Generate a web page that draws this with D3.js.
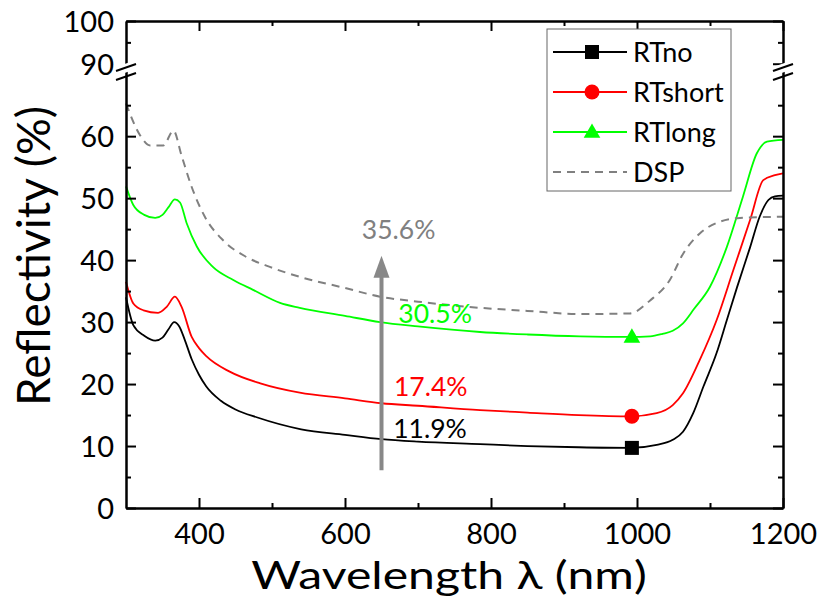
<!DOCTYPE html>
<html>
<head>
<meta charset="utf-8">
<script src="https://cdn.jsdelivr.net/npm/d3@7"></script>
<style>
  body { margin: 0; background: #fff; }
  text { font-family: Lato, 'Open Sans', sans-serif; }
</style>
</head>
<body>
<script>
// values
const wlNo = [300, 310, 325, 340, 350, 358, 366, 373, 380, 390, 400, 410, 430, 450, 480, 540, 600, 650, 700, 785, 850, 920, 990, 1027, 1049, 1063, 1077, 1091, 1109, 1123, 1137, 1155, 1168, 1180, 1189, 1200];
const rNo  = [34.0, 29.5, 27.8, 27.0, 27.5, 28.8, 30.0, 29.3, 27.3, 24.0, 21.5, 19.6, 17.3, 15.9, 14.6, 12.7, 11.8, 11.1, 10.7, 10.3, 10.0, 9.8, 9.7, 10.2, 11.0, 12.3, 15.3, 19.6, 25.0, 30.3, 35.6, 42.1, 47.0, 49.7, 50.3, 50.4];

const wlShort = [300, 310, 324, 344, 356, 367, 376, 390, 400, 410, 442, 484, 538, 600, 650, 700, 785, 850, 920, 992, 1027, 1049, 1063, 1086, 1109, 1132, 1155, 1173, 1189, 1200];
const rShort  = [36.5, 33.0, 31.9, 31.5, 32.5, 34.1, 32.5, 27.6, 25.8, 24.5, 22.0, 20.1, 18.6, 17.7, 16.9, 16.5, 15.8, 15.4, 15.0, 14.8, 15.3, 16.6, 18.5, 23.9, 30.3, 38.4, 46.5, 52.9, 53.7, 54.0];

const wlLong = [300, 310, 325, 340, 350, 358, 367, 374, 383, 397, 419, 447, 474, 511, 538, 600, 648, 700, 785, 850, 922, 990, 1018, 1035, 1049, 1063, 1078, 1100, 1123, 1145, 1164, 1178, 1200];
const rLong  = [51.9, 48.9, 47.3, 46.8, 47.3, 48.5, 49.8, 49.3, 46.0, 42.2, 38.9, 36.8, 35.2, 33.1, 32.3, 31.0, 30.0, 29.3, 28.4, 28.0, 27.7, 27.6, 27.7, 28.1, 28.6, 29.8, 32.1, 35.7, 42.1, 50.2, 57.2, 59.1, 59.4];

const wlDsp = [300, 319, 333, 351, 365, 376, 390, 408, 433, 465, 497, 538, 600, 648, 700, 785, 850, 922, 990, 1018, 1045, 1063, 1086, 1109, 1141, 1200];
const rDsp  = [65.3, 60.2, 58.5, 58.5, 60.9, 56.9, 51.8, 47.0, 43.2, 40.5, 38.9, 37.3, 35.5, 34.1, 33.3, 32.3, 31.8, 31.3, 31.4, 33.5, 36.8, 41.0, 44.3, 46.0, 46.8, 47.0];

const seriesNames = ['RTno', 'RTshort', 'RTlong', 'DSP'];
const seriesColors = ['#000000', '#ff0000', '#00ff00', '#808080'];

const markerWl = 993;
const markerR = [9.7, 14.8, 27.6];

const noteTexts = ['35.6%', '30.5%', '17.4%', '11.9%'];
const noteWl = [623, 673, 667, 666];
const noteR = [43.4, 29.8, 18.1, 11.3];
const noteColors = ['#808080', '#00ff00', '#ff0000', '#000000'];

const arrowWl = 650;
const arrowFrom = 6.1;
const arrowTo = 40.7;

const xMajor = [400, 600, 800, 1000, 1200];
const xMinor = [500, 700, 900, 1100];
const yLowMajor = [0, 10, 20, 30, 40, 50, 60];
const yLowMinor = [5, 15, 25, 35, 45, 55, 65];
const yHighMajor = [90, 100];
const yHighMinor = [95];

const width = 820, height = 608;
const plot = {left: 126, right: 783, top: 21, bottom: 508, brk: 68};

const svg = d3.select('body').append('svg')
    .attr('width', width)
    .attr('height', height);

const x = d3.scaleLinear().domain([300, 1200]).range([plot.left, plot.right]);
const yLow = d3.scaleLinear().domain([0, 71]).range([plot.bottom, plot.brk]);
const yHigh = d3.scaleLinear().domain([89, 100]).range([plot.brk, plot.top]);

// curves
const line = d3.line()
    .x(d => x(d[0]))
    .y(d => yLow(d[1]))
    .curve(d3.curveMonotoneX);

const series = [
    d3.zip(wlNo, rNo),
    d3.zip(wlShort, rShort),
    d3.zip(wlLong, rLong),
    d3.zip(wlDsp, rDsp)
];

svg.append('g').selectAll('path')
    .data(series)
    .enter()
    .append('path')
    .attr('d', line)
    .attr('fill', 'none')
    .attr('stroke', (d, i) => seriesColors[i])
    .attr('stroke-width', (d, i) => i == 3 ? 2 : 1.8)
    .attr('stroke-dasharray', (d, i) => i == 3 ? '8,6' : null);

// symbols on the curves
const drawSymbol = (g, i, cx, cy) => {
    if (i == 0) {
        g.append('rect')
            .attr('x', cx - 7).attr('y', cy - 7)
            .attr('width', 14).attr('height', 14)
            .attr('fill', seriesColors[i]);
    } else if (i == 1) {
        g.append('circle')
            .attr('cx', cx).attr('cy', cy).attr('r', 7.5)
            .attr('fill', seriesColors[i]);
    } else if (i == 2) {
        g.append('path')
            .attr('d', d3.symbol().type(d3.symbolTriangle).size(120)())
            .attr('transform', `translate(${cx}, ${cy + 1})`)
            .attr('fill', seriesColors[i]);
    }
};

const markG = svg.append('g');
markerR.forEach((r, i) => drawSymbol(markG, i, x(markerWl), yLow(r)));

// arrow
const arrowG = svg.append('g');
const ax = x(arrowWl);
const tipY = yLow(arrowTo);
arrowG.append('line')
    .attr('x1', ax).attr('x2', ax)
    .attr('y1', yLow(arrowFrom)).attr('y2', tipY + 18)
    .attr('stroke', '#888888')
    .attr('stroke-width', 4);
arrowG.append('path')
    .attr('d', `M${ax},${tipY} L${ax + 8},${tipY + 22} L${ax - 8},${tipY + 22} Z`)
    .attr('fill', '#888888');

// annotations
svg.append('g').selectAll('text')
    .data(noteTexts)
    .enter()
    .append('text')
    .attr('x', (d, i) => x(noteWl[i]))
    .attr('y', (d, i) => yLow(noteR[i]))
    .attr('fill', (d, i) => noteColors[i])
    .attr('font-size', 26.5)
    .text(d => d);

// axes
const axisG = svg.append('g');
const styleAxis = (g) => {
    g.selectAll('path, line').attr('stroke', '#000').attr('stroke-width', 2);
    g.selectAll('text').attr('fill', '#000').attr('font-size', 29);
};

const bottomMaj = axisG.append('g')
    .attr('transform', `translate(0, ${plot.bottom})`)
    .call(d3.axisBottom(x).tickValues(xMajor).tickFormat(d3.format('d'))
        .tickSizeInner(-10).tickSizeOuter(0))
    .call(styleAxis);
bottomMaj.selectAll('text').attr('dy', null).attr('y', 36);
axisG.append('g')
    .attr('transform', `translate(0, ${plot.bottom})`)
    .call(d3.axisBottom(x).tickValues(xMinor).tickSizeInner(-5).tickSizeOuter(0).tickFormat(''))
    .call(styleAxis);

axisG.append('g')
    .attr('transform', `translate(0, ${plot.top})`)
    .call(d3.axisTop(x).tickValues(xMajor).tickSizeInner(-10).tickSizeOuter(0).tickFormat(''))
    .call(styleAxis);
axisG.append('g')
    .attr('transform', `translate(0, ${plot.top})`)
    .call(d3.axisTop(x).tickValues(xMinor).tickSizeInner(-5).tickSizeOuter(0).tickFormat(''))
    .call(styleAxis);

const leftAxes = [
    [yLow, yLowMajor, yLowMinor],
    [yHigh, yHighMajor, yHighMinor]
];
leftAxes.forEach(([scale, major, minor]) => {
    const lm = axisG.append('g')
        .attr('transform', `translate(${plot.left}, 0)`)
        .call(d3.axisLeft(scale).tickValues(major).tickSizeInner(-10).tickSizeOuter(0).tickPadding(12))
        .call(styleAxis);
    lm.selectAll('text').attr('dy', '0.36em');
    axisG.append('g')
        .attr('transform', `translate(${plot.left}, 0)`)
        .call(d3.axisLeft(scale).tickValues(minor).tickSizeInner(-5).tickSizeOuter(0).tickFormat(''))
        .call(styleAxis);
    axisG.append('g')
        .attr('transform', `translate(${plot.right}, 0)`)
        .call(d3.axisRight(scale).tickValues(major).tickSizeInner(-10).tickSizeOuter(0).tickFormat(''))
        .call(styleAxis);
    axisG.append('g')
        .attr('transform', `translate(${plot.right}, 0)`)
        .call(d3.axisRight(scale).tickValues(minor).tickSizeInner(-5).tickSizeOuter(0).tickFormat(''))
        .call(styleAxis);
});

// axis break marks
[plot.left, plot.right].forEach(bx => {
    const by = plot.brk;
    const brk = svg.append('g');
    brk.append('path')
        .attr('d', `M${bx - 10},${by + 2} L${bx + 10},${by - 5} L${bx + 10},${by - 14} L${bx - 10},${by - 7} Z`)
        .attr('transform', 'translate(0, 6)')
        .attr('fill', '#fff');
    brk.append('line')
        .attr('x1', bx - 10).attr('y1', by + 3)
        .attr('x2', bx + 10).attr('y2', by - 4)
        .attr('stroke', '#000').attr('stroke-width', 2);
    brk.append('line')
        .attr('x1', bx - 10).attr('y1', by + 12)
        .attr('x2', bx + 10).attr('y2', by + 5)
        .attr('stroke', '#000').attr('stroke-width', 2);
});

// axis titles
svg.append('text')
    .attr('transform', 'translate(449, 589) scale(1.146, 0.9)')
    .attr('text-anchor', 'middle')
    .attr('font-size', 42)
    .text('Wavelength λ (nm)');

svg.append('text')
    .attr('transform', 'translate(50, 256) rotate(-90)')
    .attr('text-anchor', 'middle')
    .attr('font-size', 46)
    .text('Reflectivity (%)');

// legend
const legend = svg.append('g');
legend.append('rect')
    .attr('x', 547).attr('y', 29)
    .attr('width', 184).attr('height', 162)
    .attr('fill', '#fff')
    .attr('stroke', '#666')
    .attr('stroke-width', 1);

seriesNames.forEach((name, i) => {
    const ly = 52 + i * 40;
    const item = legend.append('g');
    item.append('line')
        .attr('x1', 553).attr('x2', 627)
        .attr('y1', ly).attr('y2', ly)
        .attr('stroke', seriesColors[i])
        .attr('stroke-width', i == 3 ? 2 : 1.8)
        .attr('stroke-dasharray', i == 3 ? '8,6' : null);
    drawSymbol(item, i, 592, ly);
    item.append('text')
        .attr('x', 633)
        .attr('y', ly + 9.5)
        .attr('font-size', 27)
        .text(name);
});
</script>
</body>
</html>
